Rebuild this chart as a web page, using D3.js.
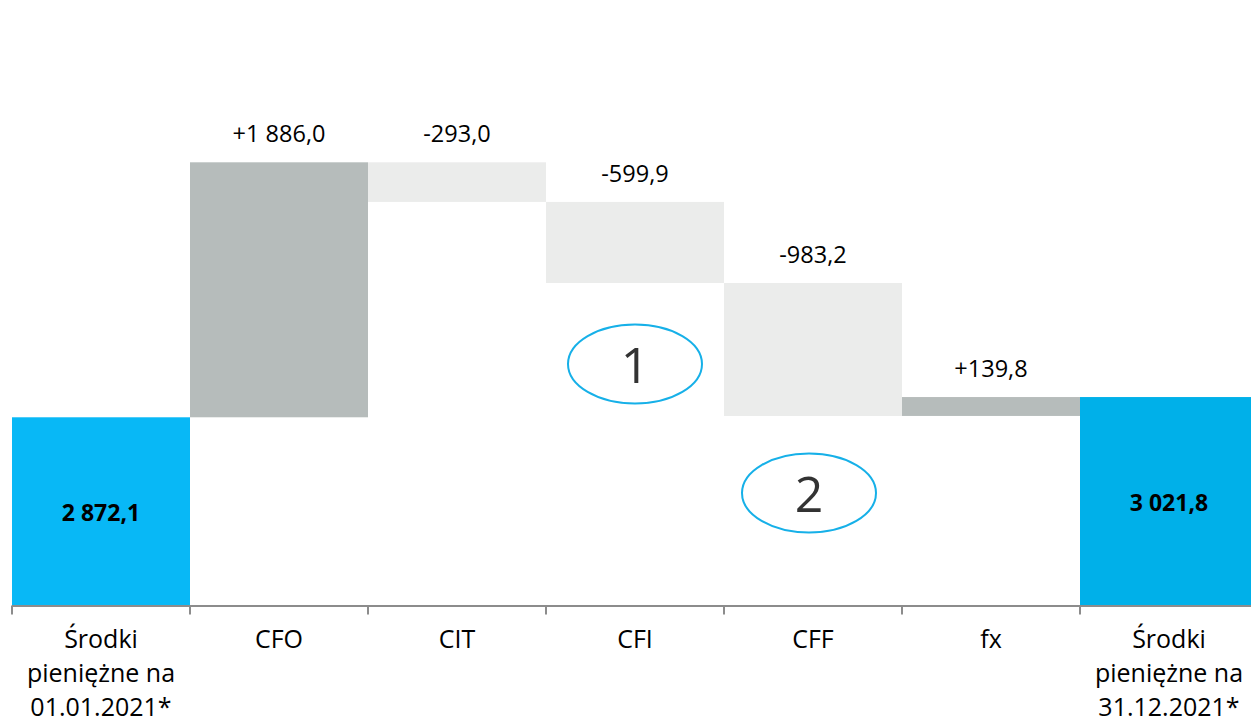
<!DOCTYPE html>
<html>
<head>
<meta charset="utf-8">
<script src="https://cdn.jsdelivr.net/npm/d3@7"></script>
<style>
  html, body { margin: 0; padding: 0; background: #fff; }
  svg { display: block; font-family: "Open Sans", sans-serif; }
</style>
</head>
<body>
<svg class="canvas" width="1251" height="726"></svg>
<script>
// chart data
const categories = ["start", "CFO", "CIT", "CFI", "CFF", "fx", "end"];
const categoryLabels = [
  ["Środki", "pieniężne na", "01.01.2021*"],
  ["CFO"],
  ["CIT"],
  ["CFI"],
  ["CFF"],
  ["fx"],
  ["Środki", "pieniężne na", "31.12.2021*"]
];
const values = [2872.1, 1886.0, -293.0, -599.9, -983.2, 139.8, 3021.8];
const kinds = ["total", "delta", "delta", "delta", "delta", "delta", "total"];
const annotations = ["1", "2"];

// build running totals
let running = 0;
const data = categories.map((c, i) => {
  const v = values[i];
  let from, to;
  if (kinds[i] === "total") {
    from = null;
    to = v;
    running = v;
  } else {
    from = running;
    to = running + v;
    running = to;
  }
  return { cat: c, lines: categoryLabels[i], value: v, kind: kinds[i], from, to, index: i };
});

const svg = d3.select(".canvas");
const baseY = 605.5;
const yMin = 1480;

const xScale = d3.scaleBand()
  .domain(categories)
  .range([12, 1258])
  .padding(0);
const bw = xScale.bandwidth();

const yScale = d3.scaleLinear()
  .domain([yMin, d3.max(data, (d) => Math.max(d.to, d.from || 0))])
  .range([baseY, 162.3]);

const pl = d3.formatLocale({ decimal: ",", thousands: " ", grouping: [3], currency: ["", ""], minus: "-" });
const fmtTotal = pl.format(",.1f");
const fmtDelta = pl.format("+,.1f");

const colorFor = (d) => {
  if (d.kind === "total") return d.index === 0 ? "#08b8f6" : "#00b0e9";
  return d.value >= 0 ? "#b6bcbb" : "#ebeceb";
};

// bars
svg.append("g")
  .selectAll("rect")
  .data(data)
  .enter()
  .append("rect")
  .attr("x", (d) => xScale(d.cat))
  .attr("width", bw)
  .attr("y", (d) => d.kind === "total" ? yScale(d.to) : yScale(Math.max(d.from, d.to)))
  .attr("height", (d) => d.kind === "total"
    ? yScale(yMin) - yScale(d.to)
    : Math.abs(yScale(d.from) - yScale(d.to)))
  .attr("fill", colorFor);

// value labels for deltas
svg.append("g")
  .selectAll("text")
  .data(data.filter((d) => d.kind === "delta"))
  .enter()
  .append("text")
  .attr("x", (d) => xScale(d.cat) + bw / 2)
  .attr("y", (d) => yScale(Math.max(d.from, d.to)) - 20)
  .attr("text-anchor", "middle")
  .style("font-size", "23.5px")
  .style("fill", "#000")
  .text((d) => fmtDelta(d.value));

// value labels inside totals
svg.append("g")
  .selectAll("text")
  .data(data.filter((d) => d.kind === "total"))
  .enter()
  .append("text")
  .attr("x", (d) => xScale(d.cat) + bw / 2)
  .attr("y", (d) => (yScale(d.to) + yScale(yMin)) / 2 + 10)
  .attr("text-anchor", "middle")
  .style("font-size", "23px")
  .style("font-weight", "bold")
  .style("fill", "#000")
  .text((d) => fmtTotal(d.value));

// x axis line and ticks at band edges
const axis = svg.append("g").attr("stroke", "#8c8c8c").attr("stroke-width", 2);
axis.append("line")
  .attr("x1", xScale.range()[0])
  .attr("x2", xScale.range()[1])
  .attr("y1", baseY + 0.5)
  .attr("y2", baseY + 0.5);
axis.selectAll(".tick")
  .data(categories)
  .enter()
  .append("line")
  .attr("class", "tick")
  .attr("x1", (c) => xScale(c))
  .attr("x2", (c) => xScale(c))
  .attr("y1", baseY)
  .attr("y2", baseY + 9);

// category labels
const labels = svg.append("g")
  .selectAll("text")
  .data(data)
  .enter()
  .append("text")
  .attr("text-anchor", "middle")
  .style("font-size", "25px")
  .style("fill", "#000");
labels.selectAll("tspan")
  .data((d) => d.lines.map((l) => ({ l, x: xScale(d.cat) + bw / 2 })))
  .enter()
  .append("tspan")
  .attr("x", (t) => t.x)
  .attr("y", (t, i) => 648 + i * 34)
  .text((t) => t.l);

// circled annotations
const annPos = [
  { cat: "CFI", dx: 0, y: 364 },
  { cat: "CFF", dx: -4, y: 493 }
];
const ann = svg.append("g")
  .selectAll("g")
  .data(annotations)
  .enter()
  .append("g")
  .attr("transform", (a, i) => `translate(${xScale(annPos[i].cat) + bw / 2 + annPos[i].dx}, ${annPos[i].y})`);
ann.append("ellipse")
  .attr("rx", 67)
  .attr("ry", 39.5)
  .attr("fill", "none")
  .attr("stroke", "#16b0e8")
  .attr("stroke-width", 2);
ann.append("text")
  .attr("text-anchor", "middle")
  .attr("y", 19)
  .style("font-size", "50px")
  .style("fill", "#333")
  .text((a) => a);
</script>
</body>
</html>
